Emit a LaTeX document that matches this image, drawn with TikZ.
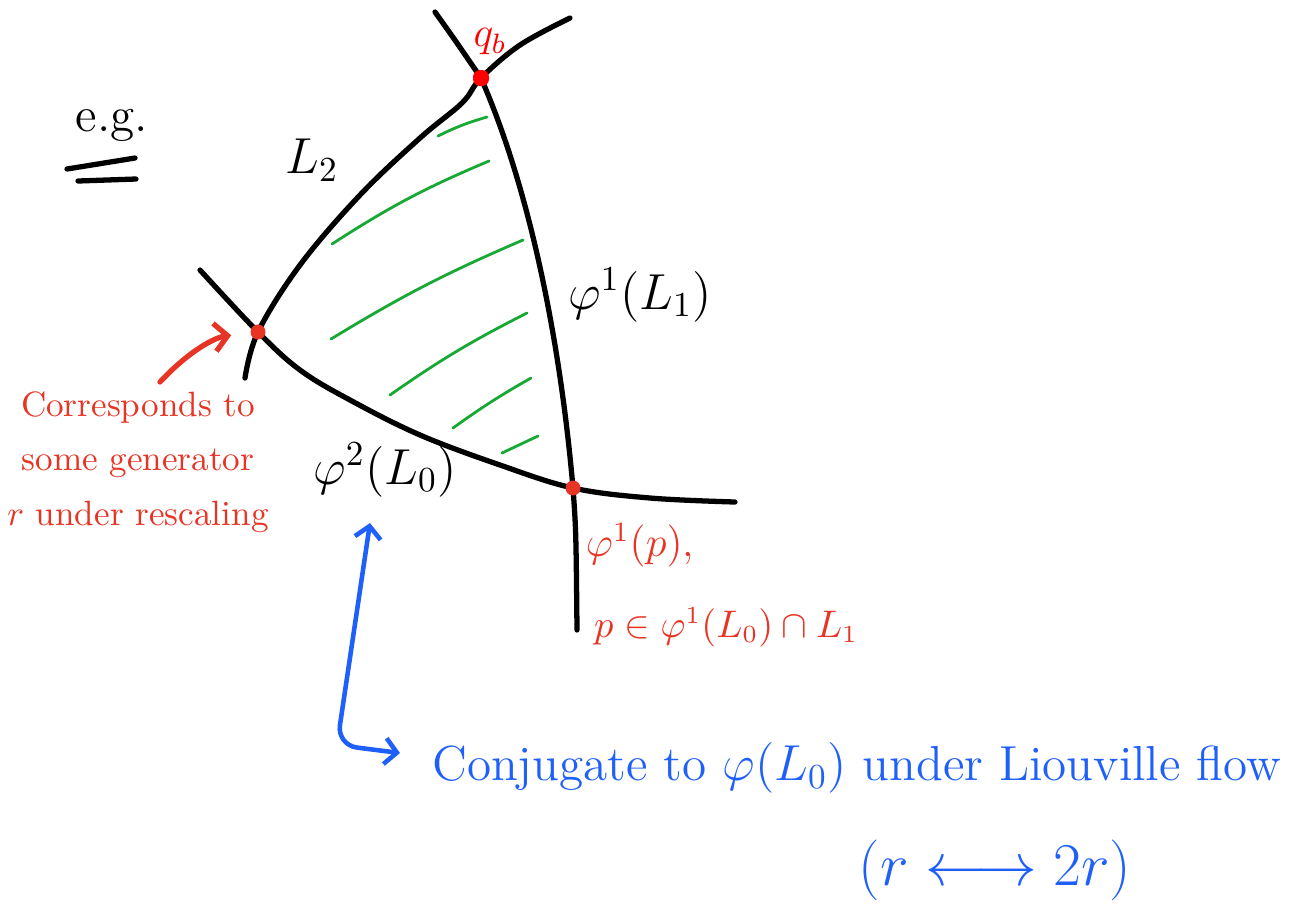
\documentclass[tikz,border=0pt]{standalone}
\usepackage{amsmath}
\usepackage{tikz}
\usetikzlibrary{arrows.meta, positioning}
\definecolor{inkblack}{RGB}{0,0,0}
\definecolor{inkred}{RGB}{232,52,36}
\definecolor{dotred}{RGB}{255,0,0}
\definecolor{inkgreen}{RGB}{24,168,52}
\definecolor{inkblue}{RGB}{32,96,250}
\tikzset{
  sheet/.style={line width=1.5pt, color=inkblack, line cap=round, line join=round},
  hatchline/.style={line width=0.8pt, color=inkgreen, line cap=round},
  meetdot/.style={circle, fill=inkred, inner sep=0pt, minimum size=0.15cm},
  blacklabel/.style={font=\fontsize{14}{16}\selectfont, text=inkblack, inner sep=1pt},
  redlabel/.style={font=\fontsize{10}{15.5}\selectfont, text=inkred, inner sep=1pt},
  bluelabel/.style={font=\fontsize{14}{16}\selectfont, text=inkblue, inner sep=1pt},
  redarrow/.style={-{Straight Barb[length=1.3mm, width=2.8mm]}, line width=1.5pt,
    color=inkred, line cap=round},
  bluearrow/.style={{Straight Barb[length=1.2mm, width=2.6mm]}-{Straight Barb[length=1.2mm, width=2.6mm]},
    line width=1.3pt, color=inkblue, line cap=round, rounded corners=0.2cm},
}

\begin{document}
\begin{tikzpicture}
  \useasboundingbox (0,0) rectangle (12.93,-9.11);

  % meeting points of the three sheets
  \coordinate (qb) at (4.81,-0.78);
  \coordinate (pleft) at (2.58,-3.32);
  \coordinate (pright) at (5.73,-4.88);

  % the three sheets
  \draw[sheet] plot[smooth, tension=0.6] coordinates {(2.45,-3.78) (pleft)
    (3.00,-2.65) (3.60,-1.95) (4.20,-1.38) (4.62,-1.03) (qb) (5.20,-0.45) (5.70,-0.18)};
  \draw[sheet] (4.35,-0.12) .. controls (4.55,-0.40) .. (qb)
    .. controls (5.30,-1.90) and (5.60,-3.40) .. (pright)
    .. controls (5.76,-5.30) .. (5.77,-6.30);
  \draw[sheet] plot[smooth, tension=0.6] coordinates {(2.00,-2.70) (pleft)
    (3.00,-3.70) (3.50,-4.00) (4.20,-4.35) (5.00,-4.65) (pright) (6.50,-4.98) (7.35,-5.02)};

  % shaded region
  \draw[hatchline] (4.38,-1.36) to[bend left=5] (4.87,-1.17);
  \draw[hatchline] (3.32,-2.44) to[bend left=5] (4.89,-1.61);
  \draw[hatchline] (3.31,-3.39) to[bend left=4] (5.23,-2.40);
  \draw[hatchline] (3.90,-3.95) to[bend left=4] (5.27,-3.13);
  \draw[hatchline] (4.53,-4.28) to[bend left=3] (5.31,-3.78);
  \draw[hatchline] (5.02,-4.53) -- (5.38,-4.36);

  % dots
  \node[meetdot] (pleftdot) at (pleft) {};
  \node[meetdot] (prightdot) at (pright) {};
  \node[rectangle, rounded corners=2pt, fill=dotred, minimum size=0.16cm, inner sep=0pt]
    (qbdot) at (qb) {};

  % labels on the sheets
  \node[text=dotred, font=\fontsize{12}{14}\selectfont] (qblabel) at (4.90,-0.42) {$q_b$};
  \node[blacklabel] (ltwo) at (3.12,-1.60) {$L_2$};
  \node[blacklabel] (phione) at (6.40,-2.95) {$\varphi^1(L_1)$};
  \node[blacklabel] (phitwo) at (3.85,-4.70) {$\varphi^2(L_0)$};

  % e.g.
  \node[blacklabel] (eg) at (1.12,-1.25) {e.g.};
  \draw[sheet] (0.67,-1.69) -- (1.35,-1.58);
  \draw[sheet] (0.78,-1.81) -- (1.36,-1.79);

  % red notes
  \node[redlabel, align=center] (corr) at (1.38,-4.62)
    {Corresponds to\\some generator\\$r$ under rescaling};
  \coordinate (corrtail) at (1.60,-3.82);
  \draw[redarrow, shorten >=0.27cm] (corrtail) to[bend left=20] (pleft);
  \node[redlabel, font=\fontsize{12}{14}\selectfont] (phip) at (6.40,-5.45) {$\varphi^1(p)$,};
  \node[redlabel, font=\fontsize{10.5}{14}\selectfont] (pin) at (7.26,-6.27) {$p\in\varphi^1(L_0)\cap L_1$};

  % blue note
  \node[bluelabel, anchor=west] (conj) at (4.28,-7.68)
    {Conjugate to $\varphi(L_0)$ under Liouville flow};
  \node[bluelabel, font=\fontsize{17}{20}\selectfont] (flow) at (9.95,-8.70)
    {$(r\longleftrightarrow 2r)$};
  \draw[bluearrow] ([xshift=-0.15cm, yshift=-0.22cm]phitwo.south) -- (3.37,-7.45)
    -- ([xshift=-0.28cm, yshift=0.15cm]conj.west);
\end{tikzpicture}
\end{document}
